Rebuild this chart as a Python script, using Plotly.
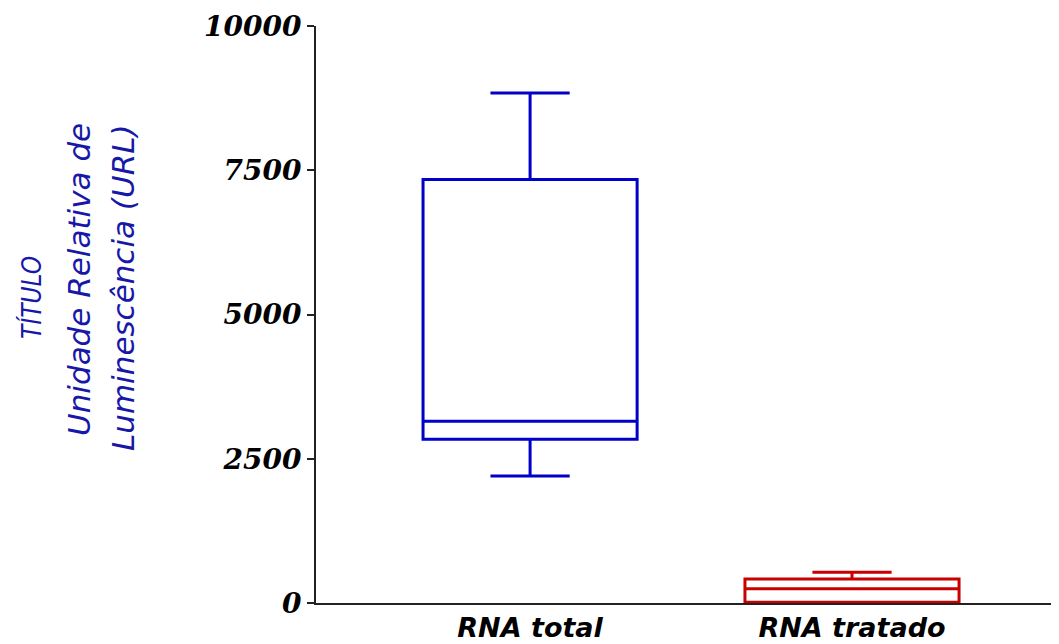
import plotly.graph_objects as go

categories = ["RNA total", "RNA tratado"]
lower = [2200, 0]
q1 = [2840, 15]
median = [3150, 245]
q3 = [7340, 415]
upper = [8840, 535]
colors = ["#0000c8", "#c80000"]
y_ticks = [0, 2500, 5000, 7500, 10000]

OFF = 8  # page body margin
W, H = 1059 - OFF, 644 - OFF
L, R, T, B = 316 - OFF, 0, 26 - OFF, 41
pw, ph = W - L - R, H - T - B

fig = go.Figure()
for i, c in enumerate(categories):
    fig.add_trace(go.Box(
        x=[c], q1=[q1[i]], median=[median[i]], q3=[q3[i]],
        lowerfence=[lower[i]], upperfence=[upper[i]],
        line=dict(color=colors[i], width=3), fillcolor="rgba(0,0,0,0)",
        boxpoints=False, width=0.665, whiskerwidth=0.37, showlegend=False,
    ))

def px_x(p):
    return (p - OFF - L) / pw

def px_y(p):
    return (H - B - (p - OFF)) / ph

ann_font = dict(family="DejaVu Sans", size=31, color="#1818a8", style="italic")
fig.add_annotation(text="TÍTULO", x=px_x(31), y=px_y(298), xref="paper", yref="paper",
                   textangle=-90, showarrow=False, xanchor="center", yanchor="middle",
                   font=dict(family="DejaVu Sans Condensed", size=26, color="#1818a8", style="italic"))
fig.add_annotation(text="Unidade Relativa de", x=px_x(79), y=px_y(280), xref="paper", yref="paper",
                   textangle=-90, showarrow=False, xanchor="center", yanchor="middle", font=ann_font)
fig.add_annotation(text="Luminescência (URL)", x=px_x(123), y=px_y(287), xref="paper", yref="paper",
                   textangle=-90, showarrow=False, xanchor="center", yanchor="middle", font=ann_font)

fig.update_layout(
    width=W, height=H, margin=dict(l=L, r=R, t=T, b=B, autoexpand=False),
    paper_bgcolor="white", plot_bgcolor="white", boxmode="overlay",
    xaxis=dict(type="category", range=[-0.665, 1.643], showline=True, linecolor="#222",
               linewidth=2, showgrid=False, zeroline=False, ticks="",
               tickfont=dict(family="DejaVu Sans", size=27, color="black", weight="bold", style="italic")),
    yaxis=dict(range=[0, 10000], tickvals=y_ticks, ticktext=[str(v) for v in y_ticks],
               showline=True, linecolor="#222", linewidth=2, showgrid=False, zeroline=False,
               ticks="outside", ticklen=7, tickwidth=2, tickcolor="#222",
               tickfont=dict(family="DejaVu Serif", size=28, color="black", weight="bold", style="italic")),
)

fig.write_html("out.html")
